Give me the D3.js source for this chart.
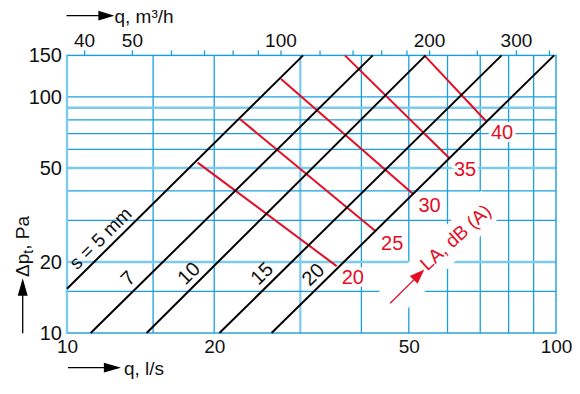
<!DOCTYPE html>
<html>
<head>
<meta charset="utf-8">
<script src="https://cdn.jsdelivr.net/npm/d3@7"></script>
<style>
  html, body { margin: 0; padding: 0; background: #fff; }
  svg { display: block; font-family: 'Liberation Sans', Arial, sans-serif; }
</style>
</head>
<body>
<svg id="chart" width="580" height="394"></svg>
<script>
//

// q, l/s (bottom) and dp, Pa (left)
const qTicks = [10, 20, 50, 100]
const qGrid = [15, 20, 30, 40, 50, 60, 70, 80, 90]
const qLight = [30]
const dpTicks = [10, 20, 50, 100, 150]
const dpGrid = [15, 20, 30, 40, 50, 60, 70, 80, 90, 100]
const dpLight = [20, 50, 90]

// q, m3/h (top)
const topTicks = [40, 50, 60, 70, 80, 90, 100, 120, 140, 160, 180, 200, 250, 300, 350]
const topLabels = [40, 50, 100, 200, 300]

// slot size s, mm : ends of each line as [q l/s, dp Pa]
const sizes = ['s = 5 mm', '7', '10', '15', '20']
const sizeLines = [
  [[10, 15.4], [30.4, 150]],
  [[11.18, 10], [42.2, 150]],
  [[14.55, 10], [54.1, 150]],
  [[20.5, 10], [77.4, 150]],
  [[26.2, 10], [99.1, 150]]
]
const sizeLabelQ = [12.2, 13.9, 18.5, 26.1, 33.2]

// sound level LA, dB(A)
const levels = ['20', '25', '30', '35', '40']
const levelLines = [
  [[18.5, 52.7], [35.6, 19.2]],
  [[22.6, 80.4], [42.85, 26.9]],
  [[27.4, 119.2], [51.1, 38.7]],
  [[37.0, 150], [60.4, 55.3]],
  [[53.8, 150], [71.9, 79.1]]
]
const levelArrow = [[45.8, 13.36], [53.8, 18.6]]

//

const gridColor = '#1a9fdd'
const lightColor = '#7ccbee'
const red = '#e30d24'

const svg = d3.select('#chart')

const x = d3.scaleLog().domain([10, 100]).range([67, 556])
const y = d3.scaleLog().domain([10, 150]).range([333, 55.4])
const xTop = d3.scaleLog().domain([36, 360]).range([61.5, 555])

const pt = (d) => [x(d[0]), y(d[1])]

// grid

const grid = svg.append('g').attr('class', 'grid')

grid.selectAll('.vline')
  .data(qGrid)
  .enter().append('line')
  .attr('x1', (d) => x(d)).attr('x2', (d) => x(d))
  .attr('y1', y(150)).attr('y2', y(10))
  .attr('stroke', (d) => qLight.includes(d) ? lightColor : gridColor)
  .attr('stroke-width', (d) => qLight.includes(d) ? 2.2 : 1.3)

grid.selectAll('.hline')
  .data(dpGrid)
  .enter().append('line')
  .attr('y1', (d) => y(d)).attr('y2', (d) => y(d))
  .attr('x1', x(10)).attr('x2', x(100))
  .attr('stroke', (d) => dpLight.includes(d) ? lightColor : gridColor)
  .attr('stroke-width', (d) => dpLight.includes(d) ? 2.4 : 1.3)

grid.append('rect')
  .attr('x', x(10)).attr('y', y(150))
  .attr('width', x(100) - x(10)).attr('height', y(10) - y(150))
  .attr('fill', 'none')
  .attr('stroke', gridColor)
  .attr('stroke-width', 1.4)

grid.append('line')
  .attr('x1', x(10)).attr('x2', x(10))
  .attr('y1', y(150)).attr('y2', y(10))
  .attr('stroke', lightColor)
  .attr('stroke-width', 2.4)

// axes

const topAxis = svg.append('g')
  .attr('transform', 'translate(0,' + y(150) + ')')
  .call(d3.axisTop(xTop)
    .tickValues(topTicks)
    .tickSize(5)
    .tickPadding(3)
    .tickFormat((d) => topLabels.includes(d) ? d : ''))

const bottomAxis = svg.append('g')
  .attr('transform', 'translate(0,' + y(10) + ')')
  .call(d3.axisBottom(x)
    .tickValues(qTicks)
    .tickSize(0)
    .tickPadding(7)
    .tickFormat((d) => d))

const leftAxis = svg.append('g')
  .attr('transform', 'translate(' + x(10) + ',0)')
  .call(d3.axisLeft(y)
    .tickValues(dpTicks)
    .tickSize(0)
    .tickPadding(5)
    .tickFormat((d) => d))

;[topAxis, bottomAxis, leftAxis].forEach((a) => {
  a.select('.domain').remove()
  a.selectAll('.tick line').attr('stroke', gridColor).attr('stroke-width', 1.3)
  a.selectAll('.tick text')
    .attr('fill', '#111')
    .style('font-family', "'Liberation Sans', Arial, sans-serif")
    .style('font-size', '19px')
})
leftAxis.selectAll('.tick text').style('font-size', '20px')

// LA label knockout + arrow

const a0 = pt(levelArrow[0])
const a1 = pt(levelArrow[1])
const aAng = Math.atan2(a1[1] - a0[1], a1[0] - a0[0]) * 180 / Math.PI
const aLen = Math.hypot(a1[0] - a0[0], a1[1] - a0[1])

const arrowG = svg.append('g')
  .attr('transform', 'translate(' + a0[0] + ',' + a0[1] + ') rotate(' + aAng + ')')

arrowG.append('rect')
  .attr('x', -4).attr('y', -16)
  .attr('width', aLen + 100).attr('height', 32)
  .attr('fill', '#fff')

arrowG.append('line')
  .attr('x1', 0).attr('y1', 0)
  .attr('x2', aLen - 12).attr('y2', 0)
  .attr('stroke', red)
  .attr('stroke-width', 1.3)

arrowG.append('path')
  .attr('d', 'M' + aLen + ',0L' + (aLen - 15) + ',-5.5L' + (aLen - 15) + ',5.5Z')
  .attr('fill', red)

svg.append('text')
  .attr('transform', 'translate(' + (a1[0] + 3) + ',' + (a1[1] + 2) + ') rotate(-42)')
  .attr('fill', red)
  .style('font-size', '19px')
  .text('LA, dB (A)')

// level labels

levelLines.forEach((l, i) => {
  const e = pt(l[1])
  svg.append('text')
    .attr('x', e[0] + 5)
    .attr('y', e[1] + 18)
    .attr('fill', red)
    .attr('stroke', '#fff')
    .attr('stroke-width', 6)
    .attr('paint-order', 'stroke')
    .style('font-size', '20px')
    .text(levels[i])
})

// lines

const line = d3.line().x((d) => x(d[0])).y((d) => y(d[1]))

svg.append('g')
  .selectAll('path')
  .data(levelLines)
  .enter().append('path')
  .attr('d', line)
  .attr('fill', 'none')
  .attr('stroke', red)
  .attr('stroke-width', 2)

svg.append('g')
  .selectAll('path')
  .data(sizeLines)
  .enter().append('path')
  .attr('d', line)
  .attr('fill', 'none')
  .attr('stroke', '#000')
  .attr('stroke-width', 2)

// size labels along the lines

sizeLines.forEach((l, i) => {
  const q = sizeLabelQ[i]
  const t = Math.log(q / l[0][0]) / Math.log(l[1][0] / l[0][0])
  const dp = l[0][1] * Math.pow(l[1][1] / l[0][1], t)
  const p0 = pt(l[0])
  const p1 = pt(l[1])
  const ang = Math.atan2(p1[1] - p0[1], p1[0] - p0[0]) * 180 / Math.PI
  svg.append('text')
    .attr('transform', 'translate(' + x(q) + ',' + y(dp) + ') rotate(' + ang + ')')
    .attr('y', -6)
    .attr('text-anchor', 'middle')
    .attr('fill', '#111')
    .style('font-size', i === 0 ? '19px' : '20px')
    .text(sizes[i])
})

// titles

svg.append('path')
  .attr('d', 'M66.5,15.7H100M112,15.7L99,11.7L99,19.7Z')
  .attr('stroke', '#000').attr('stroke-width', 1.3).attr('fill', '#000')

svg.append('text')
  .attr('x', 114.5).attr('y', 22.7)
  .attr('fill', '#111')
  .style('font-size', '19px')
  .text('q, m³/h')

svg.append('path')
  .attr('d', 'M68,367.7H106M118.5,367.7L104.5,363.7L104.5,371.7Z')
  .attr('stroke', '#000').attr('stroke-width', 1.3).attr('fill', '#000')

svg.append('text')
  .attr('x', 124).attr('y', 375)
  .attr('fill', '#111')
  .style('font-size', '19px')
  .text('q, l/s')

svg.append('path')
  .attr('d', 'M22.7,333.3V294M22.7,280.7L18.6,295L26.8,295Z')
  .attr('stroke', '#000').attr('stroke-width', 1.3).attr('fill', '#000')

const yTitle = svg.append('text')
  .attr('transform', 'translate(28.5,277) rotate(-90)')
  .attr('fill', '#111')
  .style('font-size', '19px')
yTitle.append('tspan').text('Δp')
yTitle.append('tspan').attr('dy', 4).style('font-size', '14px').text('t')
yTitle.append('tspan').attr('dy', -4).text(', Pa')
</script>
</body>
</html>
